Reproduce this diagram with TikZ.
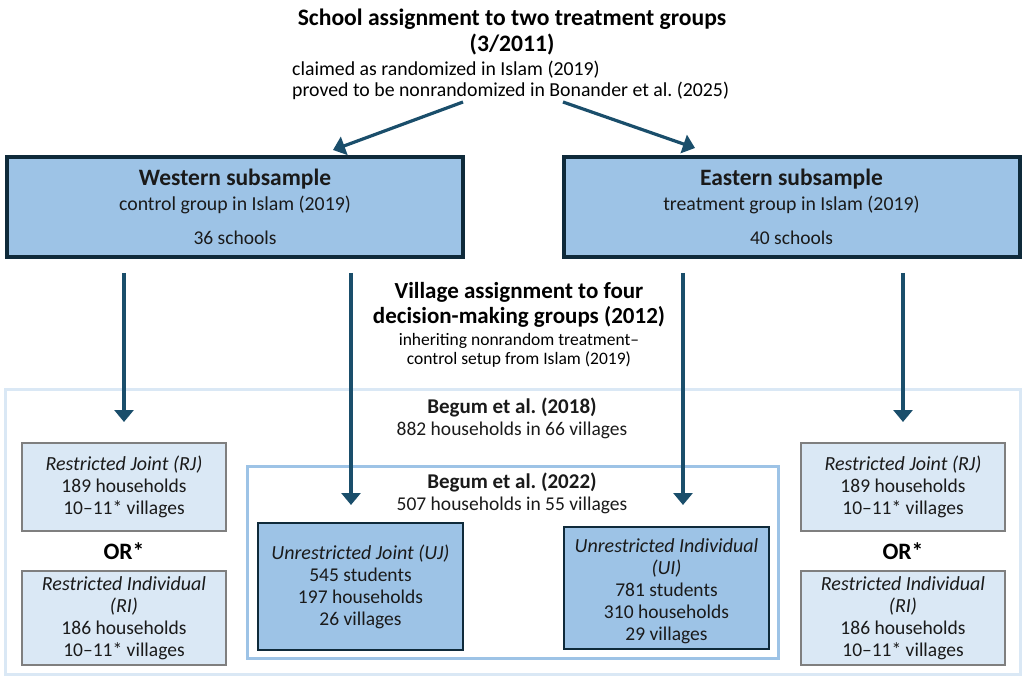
\documentclass[tikz,border=0pt]{standalone}
\usepackage{fontspec}
\setmainfont{Carlito}
\usetikzlibrary{arrows.meta}
\frenchspacing
\definecolor{navy}{HTML}{0F2A3A}
\definecolor{arrc}{HTML}{1A4E6B}
\definecolor{midblue}{HTML}{9DC3E6}
\definecolor{paleblue}{HTML}{DAE8F5}
\definecolor{grayb}{HTML}{7F7F7F}
\definecolor{txt}{HTML}{1A1A1A}
\tikzset{
  arr/.style={draw=arrc, line width=3.2pt, -{Triangle[width=19pt,length=12pt]}},
  bigbox/.style={draw=navy, line width=4pt, fill=midblue, minimum width=456pt, minimum height=100pt, align=center, text=txt, inner sep=0pt},
  rbox/.style={draw=grayb, line width=2pt, fill=paleblue, minimum width=204pt, align=center, text=txt, inner sep=0pt},
  ubox/.style={draw=navy, line width=2pt, fill=midblue, minimum width=205pt, align=center, text=txt, inner sep=0pt},
  plain/.style={font=\fontsize{19.5}{22}\selectfont, text=txt, align=center, inner sep=0pt},
  ortext/.style={font=\bfseries\fontsize{23.5}{24}\selectfont, inner sep=0pt},
}
\newcommand{\itl}[1]{{\itshape\fontsize{20}{22}\selectfont #1}}
\begin{document}
\begin{tikzpicture}[x=1pt,y=-1pt, font=\fontsize{19.5}{22}\selectfont]
\useasboundingbox (0,0) rectangle (1023,676);

% top title
\node[inner sep=0pt, align=center, font=\bfseries\fontsize{23.6}{26}\selectfont] (title) at (512,32)
  {School assignment to two treatment groups\\(3/2011)};
\node[inner sep=0pt, align=left, anchor=north west, font=\fontsize{19.8}{21}\selectfont] (claim) at (292,60.5)
  {claimed as randomized in Islam (2019)\\proved to be nonrandomized in Bonander et al. (2025)};

% big boxes
\node[bigbox] (west) at (235,207)
  {{\bfseries\fontsize{23.5}{24}\selectfont Western subsample}\\[3pt]
   {\fontsize{19.8}{22}\selectfont control group in Islam (2019)}\\[12pt] 36 schools};
\node[bigbox] (east) at (791.5,207)
  {{\bfseries\fontsize{23.5}{24}\selectfont Eastern subsample}\\[3pt]
   {\fontsize{19.8}{22}\selectfont treatment group in Islam (2019)}\\[12pt] 40 schools};

% arrows from title
\coordinate (tl) at (463,102);
\coordinate (tr) at (563,102);
\coordinate (wl) at (333,150);
\coordinate (er) at (695,148);
\draw[arr] (tl) -- (wl);
\draw[arr] (tr) -- (er);

% village assignment text
\node[inner sep=0pt, align=center] (village) at (519,325)
  {{\bfseries\fontsize{23}{25}\selectfont Village assignment to four}\\[3pt]
   {\bfseries\fontsize{23}{25}\selectfont decision-making groups (2012)}\\
   {\fontsize{17.5}{19}\selectfont inheriting nonrandom treatment–}\\[-3pt]
   {\fontsize{17.5}{19}\selectfont control setup from Islam (2019)}};

% outer Begum 2018 frame
\draw[draw=paleblue, line width=3pt] (5,389) rectangle (1020,674) coordinate (b18frame);
\node[plain] (b18) at (512,418.5)
  {{\bfseries\fontsize{21}{24}\selectfont Begum et al. (2018)}\\882 households in 66 villages};

% inner Begum 2022 frame
\node[draw=midblue, line width=3pt, fill=white, minimum width=531pt, minimum height=192pt, inner sep=0pt] (b22frame) at (513,562.5) {};
\node[plain] (b22) at (512,493.5)
  {{\bfseries\fontsize{21}{24}\selectfont Begum et al. (2022)}\\507 households in 55 villages};

% left group
\node[rbox, minimum height=88pt] (rjL) at (124,487)
  {\itl{Restricted Joint (RJ)}\\189 households\\10–11* villages};
\node[ortext] (orL) at (124,551) {OR*};
\node[rbox, minimum height=94pt] (riL) at (124,618)
  {\itl{Restricted Individual}\\\itl{(RI)}\\186 households\\10–11* villages};

% right group
\node[rbox, minimum height=88pt] (rjR) at (903,487)
  {\itl{Restricted Joint (RJ)}\\189 households\\10–11* villages};
\node[ortext] (orR) at (903,551) {OR*};
\node[rbox, minimum height=94pt] (riR) at (903,618)
  {\itl{Restricted Individual}\\\itl{(RI)}\\186 households\\10–11* villages};

% unrestricted boxes
\node[ubox, minimum height=127pt] (uj) at (360.5,586.5)
  {\itl{Unrestricted Joint (UJ)}\\545 students\\197 households\\26 villages};
\node[ubox, minimum height=122pt] (ui) at (666.5,588)
  {\rule{0pt}{20pt}\itl{Unrestricted Individual}\\\itl{(UI)}\\781 students\\310 households\\29 villages};

% vertical arrows
\coordinate (a1s) at (124,273);
\coordinate (a1e) at (124,422);
\coordinate (a2s) at (351,273);
\coordinate (a2e) at (351,505);
\coordinate (a3s) at (683,273);
\coordinate (a3e) at (683,505);
\coordinate (a4s) at (903,273);
\coordinate (a4e) at (903,422);
\draw[arr] (a1s) -- (a1e);
\draw[arr] (a2s) -- (a2e);
\draw[arr] (a3s) -- (a3e);
\draw[arr] (a4s) -- (a4e);
\end{tikzpicture}
\end{document}
